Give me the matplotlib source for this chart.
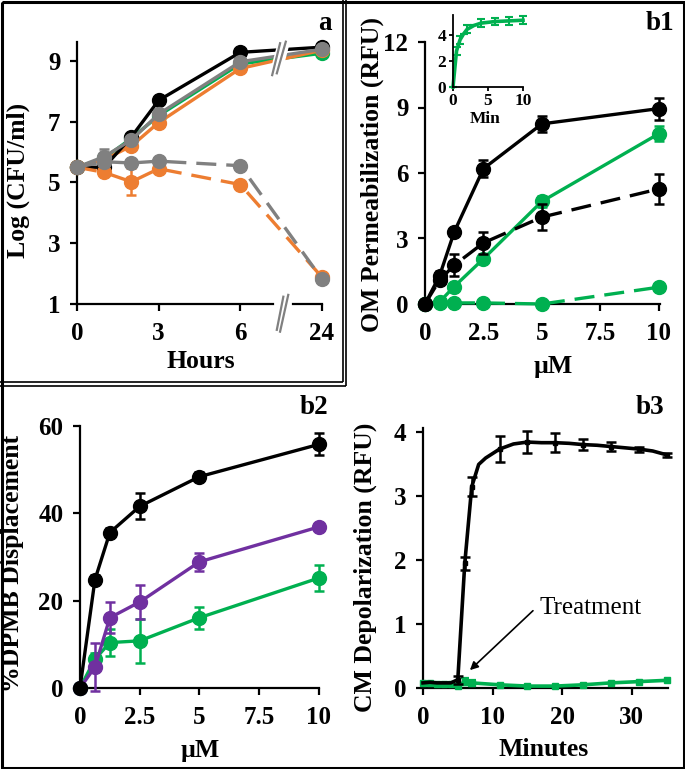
import numpy as np
import matplotlib
matplotlib.use("Agg")
import matplotlib.pyplot as plt
from matplotlib.lines import Line2D
from matplotlib.patches import Polygon

plt.rcParams["font.family"] = ["Liberation Serif", "DejaVu Serif"]
plt.rcParams["font.weight"] = "bold"

W, H = 685, 769

# ---- panel a: growth curves ----
hours = [0, 1, 2, 3, 6, 24]
a_black = [5.5, 5.5, 6.5, 7.7, 9.28, 9.45]
a_green = [5.5, 5.8, 6.45, 7.2, 8.9, 9.25]
a_orange = [5.5, 5.75, 6.2, 6.97, 8.75, 9.35]
a_gray = [5.5, 5.85, 6.4, 7.25, 8.97, 9.38]
a_gray_dash = [5.5, 5.68, 5.64, 5.7, 5.55, 1.82]
a_orange_dash = [5.5, 5.33, 5.02, 5.45, 4.93, 1.88]
a_gray_err = [0, 0.25, 0.1, 0.1, 0.1, 0.1]
a_orange_dash_err = [0, 0.1, 0.45, 0.1, 0.1, 0.1]

# ---- panel b1: OM permeabilization ----
conc = [0, 0.625, 1.25, 2.5, 5, 10]
b1_black = [0, 1.3, 3.3, 6.2, 8.25, 8.95]
b1_black_err = [0, 0.2, 0.2, 0.4, 0.35, 0.5]
b1_black_dash = [0, 1.1, 1.78, 2.8, 3.98, 5.27]
b1_black_dash_err = [0, 0.2, 0.5, 0.5, 0.6, 0.7]
b1_green = [0, 0.1, 0.8, 2.07, 4.7, 7.8]
b1_green_err = [0, 0.05, 0.1, 0.15, 0.25, 0.35]
b1_green_dash = [0, 0.05, 0.05, 0.05, 0.0, 0.77]

inset_t = [0, 0.5, 1, 1.5, 2, 3, 4, 6, 8, 10]
inset_v = [0, 2.75, 3.6, 4.05, 4.4, 4.7, 4.88, 5.0, 5.05, 5.1]
inset_err = [0, 0.3, 0.3, 0, 0.3, 0, 0.3, 0.3, 0.3, 0.3]

# ---- panel b2: DPMB displacement ----
b2_black = [0, 24.8, 35.6, 41.6, 48.4, 55.8]
b2_black_err = [0, 1, 1, 3, 1, 2.5]
b2_purple = [0, 4.8, 16.1, 19.7, 28.9, 36.9]
b2_purple_err = [0, 5.5, 3.5, 4, 2, 1]
b2_green = [0, 6.6, 10.4, 10.8, 16.1, 25.2]
b2_green_err = [0, 1.5, 3, 5, 2.5, 3]

# ---- panel b3: CM depolarization ----
b3_t = [0, 1, 2, 3, 4, 5, 6, 7, 8, 9, 11, 13, 15, 17, 19, 21, 23, 25, 27, 29, 31, 33, 35]
b3_black = [0.08, 0.09, 0.08, 0.08, 0.08, 0.13, 1.95, 3.15, 3.5, 3.6, 3.74, 3.82, 3.85,
            3.84, 3.84, 3.83, 3.81, 3.8, 3.78, 3.76, 3.74, 3.71, 3.65]
b3_black_err = [0, 0, 0, 0, 0, 0.06, 0.1, 0.15, 0, 0, 0.2, 0, 0.17, 0, 0.15, 0, 0.08,
                0, 0.07, 0, 0.04, 0, 0.03]
b3_gt = [0, 1, 2, 3, 4, 5, 6, 7, 11, 15, 19, 23, 27, 31, 35]
b3_green = [0.08, 0.08, 0.07, 0.07, 0.06, 0.03, 0.1, 0.08, 0.05, 0.03, 0.03, 0.05, 0.08,
            0.1, 0.12]
b3_green_err = [0, 0, 0, 0, 0, 0, 0.06, 0.05, 0, 0, 0, 0, 0, 0, 0]

BLACK = "black"
GREEN = "#00B050"
ORANGE = "#ED7D31"
GRAY = "#808080"
PURPLE = "#7030A0"

LW = 2.4
MS = 10
TICK_FS = 18
LABEL_FS = 18.5
PANEL_FS = 19.5


def ax_at(fig, left, top, right, bottom):
    # pixel box -> figure fraction
    return fig.add_axes([left / W, 1 - bottom / H, (right - left) / W, (bottom - top) / H])


def style_ax(ax, fs=TICK_FS, ypad=7, xpad=8):
    for s in ["top", "right"]:
        ax.spines[s].set_visible(False)
    for s in ["left", "bottom"]:
        ax.spines[s].set_linewidth(1.6)
    ax.tick_params(axis="both", direction="out", length=5, width=1.6, labelsize=fs)
    ax.tick_params(axis="y", pad=ypad)
    ax.tick_params(axis="x", pad=xpad)


def series(ax, x, y, err, color, ls="-", ms=MS, marker="o", lw=LW, z=3):
    line, _, _ = ax.errorbar(x, y, yerr=err, color=color, marker=marker, ms=ms, lw=lw,
                             elinewidth=1.8, capsize=3.5, capthick=1.8, clip_on=False,
                             zorder=z)
    if ls == "--":
        line.set_dashes((6, 3))
    for c in ax.containers[-1].get_children():
        c.set_clip_on(False)
    return line


def ftext(x, y, s, **kw):
    fig.text(x / W, 1 - y / H, s, ha="center", va="center", **kw)


fig = plt.figure(figsize=(W / 100, H / 100), dpi=100)

# ================= panel a =================
ax = ax_at(fig, 77, 42, 322, 304)
hx = [h if h <= 6 else 9 for h in hours]  # broken axis: 24 h drawn at position 9
series(ax, hx, a_green, 0, GREEN, z=3)
series(ax, hx, a_orange, 0, ORANGE, z=3.1)
series(ax, hx, a_black, 0, BLACK, z=3.2)
series(ax, hx, a_gray, a_gray_err, GRAY, z=3.3)
series(ax, hx, a_orange_dash, a_orange_dash_err, ORANGE, ls="--", z=3.4)
series(ax, hx, a_gray_dash, 0, GRAY, ls="--", z=3.5)
ax.set_xlim(0, 9)
ax.set_ylim(1, 9.62)
ax.set_yticks([1, 3, 5, 7, 9])
ax.set_xticks([0, 3, 6, 9])
ax.set_xticklabels(["0", "3", "6", "24"])
style_ax(ax)
ax.spines["bottom"].set_visible(False)
ax.plot([0, 7.21], [1, 1], color="black", lw=1.6, clip_on=False, zorder=5)
ax.plot([7.94, 9], [1, 1], color="black", lw=1.6, clip_on=False, zorder=5)
ax.add_patch(Polygon([(7.05, 8.5), (7.4, 9.7), (7.85, 9.7), (7.5, 8.5)],
                     closed=True, facecolor="white", edgecolor="none", zorder=6))
for (x0, y0, x1, y1) in [(7.17, 8.53, 7.46, 9.58), (7.34, 8.59, 7.67, 9.63),
                         (7.34, 0.15, 7.58, 1.24), (7.46, 0.09, 7.76, 1.3)]:
    ax.plot([x0, x1], [y0, y1], color=GRAY, lw=1.6, clip_on=False, zorder=7)
ftext(18, 180, "Log (CFU/ml)", rotation=90, fontsize=LABEL_FS)
ftext(201, 362, "Hours", fontsize=LABEL_FS)
ftext(325, 23, "a", fontsize=PANEL_FS)

# ================= panel b1 =================
ax = ax_at(fig, 425, 42, 660, 304)
series(ax, conc, b1_green_dash, 0, GREEN, ls="--", z=3)
series(ax, conc, b1_green, b1_green_err, GREEN, z=3.1)
series(ax, conc, b1_black_dash, b1_black_dash_err, BLACK, ls="--", z=3.2)
series(ax, conc, b1_black, b1_black_err, BLACK, z=3.3)
ax.set_xlim(0, 10.05)
ax.set_ylim(0, 12)
ax.set_yticks([0, 3, 6, 9, 12])
ax.set_xticks([0, 2.5, 5, 7.5, 10])
ax.set_xticklabels(["0", "2.5", "5", "7.5", "10"])
style_ax(ax)
ftext(372, 175, "OM Permeabilization (RFU)", rotation=90, fontsize=LABEL_FS)
ftext(553, 367, "µM", fontsize=LABEL_FS)
ftext(660, 23, "b1", fontsize=PANEL_FS)

# inset
ins = ax_at(fig, 453, 15, 523, 87)
ins.errorbar(inset_t, inset_v, yerr=inset_err, color=GREEN, lw=2.6, elinewidth=1.5,
             capsize=3, capthick=1.5, clip_on=False)
ins.set_xlim(0, 10)
ins.set_ylim(0, 5.5)
ins.set_yticks([0, 2, 4])
ins.set_xticks([0, 5, 10])
style_ax(ins, fs=12.5, ypad=2, xpad=1.5)
ins.tick_params(length=3, width=1.3)
for s in ["left", "bottom"]:
    ins.spines[s].set_linewidth(1.3)
ftext(485, 119, "Min", fontsize=12.5)

# ================= panel b2 =================
ax = ax_at(fig, 80, 426, 319, 688)
series(ax, conc, b2_green, b2_green_err, GREEN, z=3)
series(ax, conc, b2_purple, b2_purple_err, PURPLE, z=3.1)
series(ax, conc, b2_black, b2_black_err, BLACK, z=3.2)
ax.set_xlim(0, 10)
ax.set_ylim(0, 60)
ax.set_yticks([0, 20, 40, 60])
ax.set_xticks([0, 2.5, 5, 7.5, 10])
ax.set_xticklabels(["0", "2.5", "5", "7.5", "10"])
style_ax(ax)
ftext(13, 563, "%DPMB Displacement", rotation=90, fontsize=LABEL_FS)
ftext(200, 750, "µM", fontsize=LABEL_FS)
ftext(314, 407, "b2", fontsize=PANEL_FS)

# ================= panel b3 =================
ax = ax_at(fig, 423, 428, 668, 688)
ax.plot(b3_gt, b3_green, color=GREEN, lw=2.6, clip_on=False, zorder=3)
ax.plot(b3_gt, b3_green, ls="none", marker="s", ms=4, color=GREEN, clip_on=False, zorder=3)
ge = np.array(b3_green_err)
gm = ge > 0
ax.errorbar(np.array(b3_gt)[gm], np.array(b3_green)[gm], yerr=ge[gm], ls="none",
            color=GREEN, elinewidth=1.6, capsize=3, capthick=1.6, zorder=3)
ax.plot(b3_t, b3_black, color=BLACK, lw=2.6, clip_on=False, zorder=4)
be = np.array(b3_black_err)
bm = be > 0
ax.errorbar(np.array(b3_t)[bm], np.array(b3_black)[bm], yerr=be[bm], ls="none",
            marker="s", ms=3.5, color=BLACK, elinewidth=1.8, capsize=3.5, capthick=1.8,
            zorder=4, clip_on=False)
ax.set_xlim(0, 35.2)
ax.set_ylim(0, 4.07)
ax.set_yticks([0, 1, 2, 3, 4])
ax.set_xticks([0, 10, 20, 30])
style_ax(ax)
ax.annotate("", xy=(6.74, 0.28), xytext=(15.8, 1.21),
            arrowprops=dict(arrowstyle="-|>", lw=1.2, color="black", mutation_scale=12,
                            shrinkA=0, shrinkB=0))
ax.text(16.8, 1.25, "Treatment", fontsize=18, fontweight="normal", ha="left", va="center")
ftext(365, 567, "CM Depolarization (RFU)", rotation=90, fontsize=LABEL_FS)
ftext(544, 750, "Minutes", fontsize=LABEL_FS)
ftext(650, 407, "b3", fontsize=PANEL_FS)


# ---- frames ----
def fline(xs, ys, lw):
    fig.add_artist(Line2D([x / W for x in xs], [1 - y / H for y in ys], color="black",
                          lw=lw, solid_capstyle="butt"))


fline([1.5, 683.5, 683.5, 1.5, 1.5], [1.5, 1.5, 767.5, 767.5, 1.5], 2.2)
fline([343, 343], [0, 382], 1.2)
fline([346.5, 346.5], [0, 385.5], 1.2)
fline([0, 343], [382, 382], 1.2)
fline([0, 346.5], [385.5, 385.5], 1.2)

fig.savefig("out.png", dpi=100)
